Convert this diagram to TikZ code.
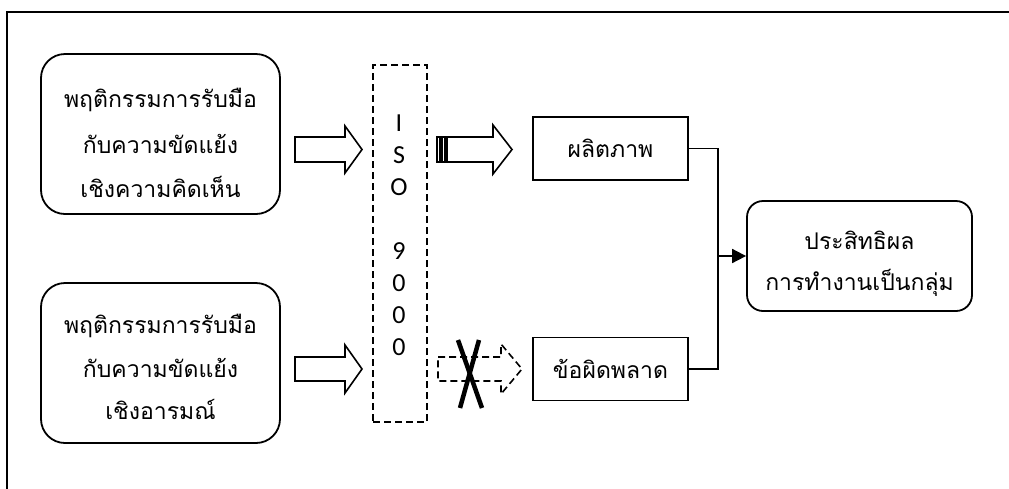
\documentclass[tikz,border=0pt]{standalone}
\usepackage{fontspec}
\newfontfamily\thai[Script=Thai]{Loma}
\newfontfamily\lat{Carlito}
\usetikzlibrary{arrows.meta}
\begin{document}
\begin{tikzpicture}[x=1pt,y=-1pt,
  rbox/.style={draw, line width=1.8pt, rounded corners=24pt, minimum width=239pt, minimum height=160pt, inner sep=0pt},
  sbox/.style={draw, line width=1.8pt, minimum width=155pt, minimum height=63pt, inner sep=0pt},
  resbox/.style={draw, line width=1.8pt, rounded corners=16pt, minimum width=225pt, minimum height=110pt, inner sep=0pt},
  thtxt/.style={font=\thai\fontsize{23}{24}\selectfont, inner sep=0pt},
  isotxt/.style={font=\lat\fontsize{26}{26}\selectfont, inner sep=0pt},
  fat/.style={draw, line width=1.6pt, line join=miter},
  conn/.style={draw, line width=1.8pt},
]
\useasboundingbox (0,0) rectangle (1009,488);
\draw[line width=2.2pt] (7,490) -- (7,12) -- (1011,12);

% left boxes
\node[rbox] (b1) at (160.5,134) {};
\node[thtxt] (b1a) at (160.5,100) {พฤติกรรมการรับมือ};
\node[thtxt] (b1b) at (160.5,144) {กับความขัดแย้ง};
\node[thtxt] (b1c) at (160.5,187) {เชิงความคิดเห็น};

\node[rbox] (b2) at (160.5,363) {};
\node[thtxt] (b2a) at (160.5,326) {พฤติกรรมการรับมือ};
\node[thtxt] (b2b) at (160.5,368) {กับความขัดแย้ง};
\node[thtxt] (b2c) at (160.5,409) {เชิงอารมณ์};

% block arrows into ISO
\draw[fat] (295,137) -- (345,137) -- (345,126) -- (362,149.5) -- (345,173) -- (345,162) -- (295,162) -- cycle;
\draw[fat] (295,357) -- (345,357) -- (345,345) -- (362,369) -- (345,393) -- (345,381) -- (295,381) -- cycle;

% ISO dashed box
\node[draw, line width=1.8pt, dash pattern=on 7pt off 4pt, minimum width=54pt, minimum height=357pt, inner sep=0pt] (iso) at (400,243.5) {};
\foreach \c/\yy [count=\i] in {I/123,S/155,O/187,9/251,0/283,0/315,0/347}
  \node[isotxt] (iso\i) at (399,\yy) {\c};

% striped arrow
\draw[fat] (437,137) rectangle (440,162);
\draw[fat] (442,137) rectangle (445,162);
\draw[fat] (447,137) -- (493,137) -- (493,125) -- (512,149.5) -- (493,174) -- (493,162) -- (447,162) -- cycle;

% dashed arrow with cross
\draw[fat, dash pattern=on 7pt off 4pt] (438,357) -- (501,357) -- (501,344) -- (522,369) -- (501,394) -- (501,381) -- (438,381) -- cycle;
\draw[line width=4.5pt] (458,340) -- (482,408);
\draw[line width=4.5pt] (479,340) -- (460,408);

% right boxes
\node[sbox] (prod) at (610.5,148.5) {};
\node[thtxt] (prodt) at (610.5,148.5) {ผลิตภาพ};
\node[sbox] (err) at (610.5,369) {};
\node[thtxt] (errt) at (610.5,369) {ข้อผิดพลาด};

\node[resbox] (res) at (859.5,256) {};
\node[thtxt] (resa) at (859.5,240) {ประสิทธิผล};
\node[thtxt] (resb) at (859.5,283) {การทำงานเป็นกลุ่ม};

\coordinate (j) at (718,256);
\draw[conn] (prod.east) -| (j);
\draw[conn] (err.east) -| (j);
\draw[conn, -{Triangle[length=14pt,width=14pt]}] (j) -- (res.west);
\end{tikzpicture}
\end{document}
